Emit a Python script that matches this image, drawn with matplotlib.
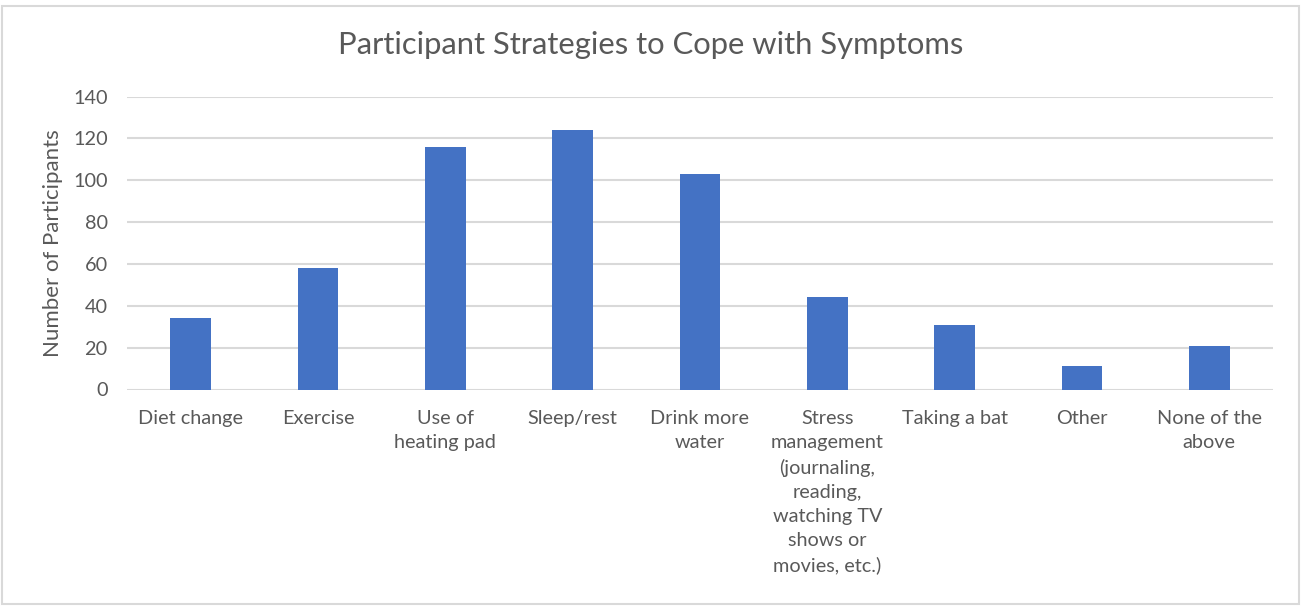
import matplotlib
matplotlib.use("Agg")
import matplotlib.pyplot as plt
from matplotlib.patches import Rectangle

# data
categories = [
    "Diet change",
    "Exercise",
    "Use of\nheating pad",
    "Sleep/rest",
    "Drink more\nwater",
    "Stress\nmanagement\n(journaling,\nreading,\nwatching TV\nshows or\nmovies, etc.)",
    "Taking a bat",
    "Other",
    "None of the\nabove",
]
participants = [34, 58, 116, 124, 103, 44, 31, 11, 21]
y_ticks = [0, 20, 40, 60, 80, 100, 120, 140]

TEXT = "#595959"
BAR = "#4472C4"
GRID = "#D9D9D9"

plt.rcParams["font.family"] = ["Lato", "DejaVu Sans"]

fig = plt.figure(figsize=(13.01, 6.06), dpi=100)
ax = fig.add_axes([127 / 1301, 1 - 389.5 / 606, 1146 / 1301, 293 / 606])

x = range(len(categories))
ax.bar(x, participants, width=0.32, color=BAR, zorder=3)

ax.set_xlim(-0.5, len(categories) - 0.5)
ax.set_ylim(0, 140)
ax.set_yticks(y_ticks)
ax.set_xticks(list(x))
ax.set_xticklabels(categories, fontsize=14.3, color=TEXT, linespacing=1.5,
                   va="top", ha="center")
ax.tick_params(axis="y", labelsize=14.3, labelcolor=TEXT, length=0, pad=14)
ax.tick_params(axis="x", length=0, pad=15)

ax.grid(axis="y", color=GRID, linewidth=1.5, zorder=0)
for s in ax.spines.values():
    s.set_visible(False)

ax.set_ylabel("Number of Participants", fontsize=16, color=TEXT, labelpad=7)
fig.text(0.5, 1 - 45 / 606, "Participant Strategies to Cope with Symptoms",
         fontsize=22.3, color=TEXT, ha="center", va="center")

# light frame around the chart area
fig.patches.append(Rectangle((2 / 1301, 2 / 606), 1 - 4 / 1301, 1 - 8 / 606,
                             transform=fig.transFigure, fill=False,
                             edgecolor="#D9D9D9", linewidth=1.5))

fig.savefig("out.png", dpi=100)
